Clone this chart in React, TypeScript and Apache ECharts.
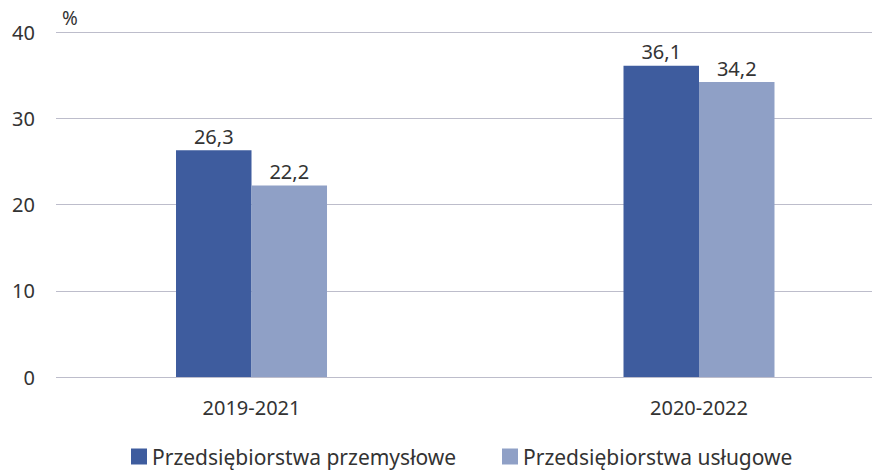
import React, { useEffect, useRef } from "react";
import * as echarts from "echarts";

const categories = ["2019-2021", "2020-2022"];
const industrial = [26.3, 36.1];
const services = [22.2, 34.2];
const seriesNames = ["Przedsiębiorstwa przemysłowe", "Przedsiębiorstwa usługowe"];
const yTicks = { min: 0, max: 40, interval: 10 };

const FONT = "'Noto Sans', 'Open Sans', sans-serif";
const TEXT = "#333333";
const DARK = "#3E5C9E";
const LIGHT = "#8FA0C6";

// x positions: category index scale, offset so the groups sit as in the reference
const X_MIN = -0.4369;
const X_MAX = 1.3866;

export default function App() {
  const ref = useRef<HTMLDivElement>(null);
  useEffect(() => {
    document.body.style.margin = "0";
    if (!ref.current) return;
    const chart = echarts.init(ref.current, null, { renderer: "svg" });
    const fmt = (p: any) => String(p.value[1]).replace(".", ",");
    const legendCommon = {
      top: 446,
      padding: 0,
      itemWidth: 16,
      itemHeight: 16,
      icon: "rect",
      textStyle: { color: TEXT, fontSize: 21, fontFamily: FONT },
    };
    const idx = categories.map((_, i) => i);
    chart.setOption({
      animation: false,
      textStyle: { fontFamily: FONT },
      grid: { left: 56, right: 0, top: 32, bottom: 93 },
      xAxis: {
        type: "value",
        min: X_MIN,
        max: X_MAX,
        axisLine: { show: false },
        axisTick: { show: false },
        splitLine: { show: false },
        axisLabel: {
          customValues: idx,
          color: TEXT,
          fontSize: 20,
          margin: 20,
          fontFamily: FONT,
          formatter: (v: number) => categories[Math.round(v)] ?? "",
        },
      },
      yAxis: {
        type: "value",
        min: yTicks.min,
        max: yTicks.max,
        interval: yTicks.interval,
        axisLine: { show: false },
        axisTick: { show: false },
        axisLabel: { color: TEXT, fontSize: 20, margin: 21, fontFamily: FONT },
        splitLine: { lineStyle: { color: "#BDBDCB", width: 1 } },
      },
      legend: [
        { ...legendCommon, left: 131, data: [seriesNames[0]] },
        { ...legendCommon, left: 502, data: [seriesNames[1]] },
      ],
      graphic: [
        {
          type: "text",
          left: 62,
          top: 8,
          style: { text: "%", fill: TEXT, font: `19px ${FONT}` },
        },
      ],
      series: [
        {
          name: seriesNames[0],
          type: "bar",
          data: industrial.map((v, i) => [i, v]),
          barWidth: 75.5,
          barGap: "0%",
          itemStyle: { color: DARK },
          label: { show: true, position: "top", distance: 4, color: TEXT, fontSize: 20, fontFamily: FONT, formatter: fmt },
        },
        {
          name: seriesNames[1],
          type: "bar",
          data: services.map((v, i) => [i, v]),
          barWidth: 75.5,
          barGap: "0%",
          itemStyle: { color: LIGHT },
          label: { show: true, position: "top", distance: 4, color: TEXT, fontSize: 20, fontFamily: FONT, formatter: fmt },
        },
      ],
    });
    return () => chart.dispose();
  }, []);
  return <div ref={ref} style={{ width: 872, height: 470 }} />;
}
